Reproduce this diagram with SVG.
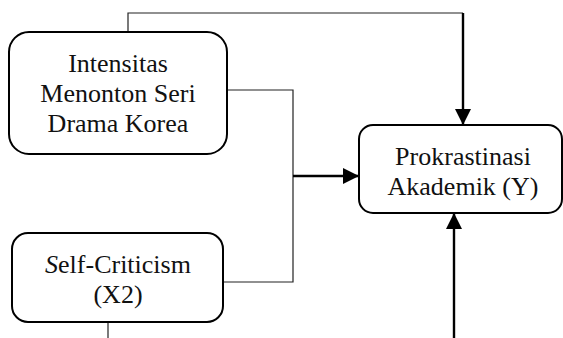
<svg xmlns="http://www.w3.org/2000/svg" width="563" height="338" viewBox="0 0 563 338">
<style>
.box{fill:#fff;stroke:#000;stroke-width:2}
.t{font-family:"Liberation Serif","Times New Roman",serif;font-size:26px;fill:#111;text-anchor:middle}
.thin{fill:none;stroke:#222;stroke-width:1.2}
.thick{fill:none;stroke:#000;stroke-width:2.4}
</style>
<defs>
<marker id="ah" markerUnits="userSpaceOnUse" markerWidth="16" markerHeight="16" viewBox="0 0 16 16" refX="16" refY="8" orient="auto">
<path d="M0,0 L16,8 L0,16 Z" fill="#000"/>
</marker>
</defs>
<g id="connectors">
<polyline class="thin" points="128,32 128,13 463,13"/>
<line class="thick" x1="463" y1="13" x2="463" y2="125" marker-end="url(#ah)"/>
<polyline class="thin" points="227,90 293,90 293,282 223,282"/>
<line class="thick" x1="293" y1="176" x2="359" y2="176" marker-end="url(#ah)"/>
<line class="thin" x1="108" y1="322" x2="108" y2="338"/>
<line class="thick" x1="454" y1="338" x2="454" y2="213" marker-end="url(#ah)"/>
</g>
<g id="node-x1">
<rect class="box" x="9" y="32" width="218" height="122" rx="20"/>
<text class="t" x="118" y="72">Intensitas</text>
<text class="t" x="118" y="102">Menonton Seri</text>
<text class="t" x="118" y="132">Drama Korea</text>
</g>
<g id="node-x2">
<rect class="box" x="12" y="233" width="211" height="89" rx="16"/>
<text class="t" x="118" y="273"><tspan font-style="italic">S</tspan>elf-Criticism</text>
<text class="t" x="118" y="303">(X2)</text>
</g>
<g id="node-y">
<rect class="box" x="359" y="125" width="203" height="88" rx="14"/>
<text class="t" x="463" y="165">Prokrastinasi</text>
<text class="t" x="463" y="195">Akademik (Y)</text>
</g>
</svg>
